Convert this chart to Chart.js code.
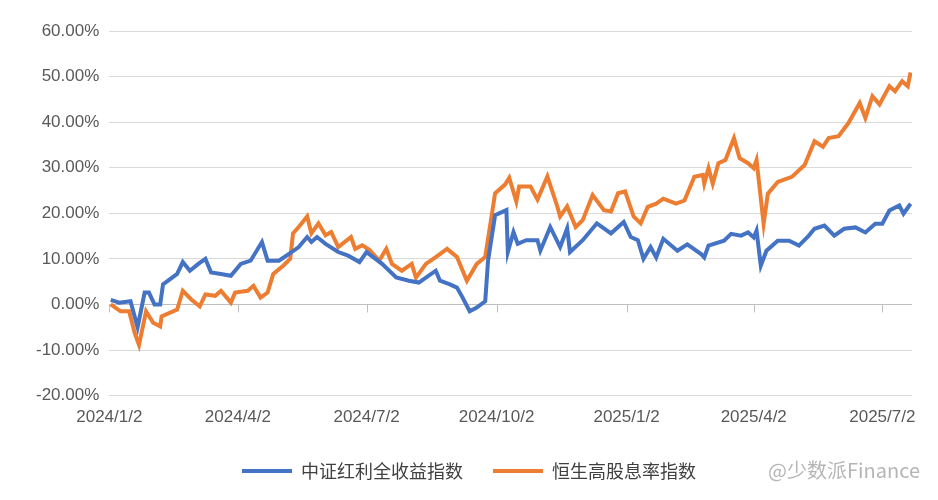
<!DOCTYPE html>
<html><head><meta charset="utf-8">
<script src="https://cdn.jsdelivr.net/npm/chart.js@4/dist/chart.umd.min.js"></script>
<style>html,body{margin:0;padding:0;background:#fff;}#wrap{position:relative;width:938px;height:500px;}
#wm{position:absolute;right:18px;top:455px;font:20px "Noto Sans CJK SC",sans-serif;color:rgba(120,120,120,0.55);}</style>
</head><body><div id="wrap"><canvas id="c" width="938" height="500"></canvas><div id="wm">@少数派Finance</div></div>
<script>
// days since 2024/1/2
const blueDays = [1,7,15,20,25,28,32,36,38,48,52,57,63,68,72,79,86,93,100,108,112,120,129,134,140,143,147,153,162,169,177,182,193,203,212,219,231,234,241,246,250,255,260,266,268,273,281,282,286,289,295,303,305,312,319,324,326,335,345,355,364,369,374,378,383,387,392,402,409,419,421,424,435,440,447,452,456,458,461,465,473,481,488,495,499,506,513,520,528,535,542,547,552,559,562,567];
const blueVals = [1,0.4,0.7,-5,2.6,2.6,0,0,4.4,6.7,9.3,7.4,8.9,10,7,6.7,6.3,8.9,9.6,13.7,9.6,9.6,11.5,12.6,14.8,13.7,14.8,13.3,11.5,10.7,9.3,11.5,8.9,5.9,5.2,4.8,7.4,5.2,4.4,3.7,1.5,-1.5,-0.7,0.7,9.6,19.6,20.7,11.5,15.9,13.3,14.1,14.1,11.8,17,12.6,16.7,11.5,14.1,17.8,15.6,18.1,14.8,14.1,10,12.6,10.3,14.4,11.8,13.2,11,10.3,12.9,14,15.5,15.1,15.8,14.7,16.2,8.5,11.8,14,14,12.9,15.1,16.6,17.3,15.1,16.6,16.9,15.8,17.7,17.7,20.6,21.7,19.9,22.1];
const orangeDays = [1,8,14,18,21,26,31,36,37,48,52,58,64,68,75,79,86,89,98,102,107,112,116,123,128,130,134,140,143,148,153,157,162,171,174,179,184,191,196,200,207,214,217,224,231,239,246,253,260,266,273,280,283,288,290,298,303,310,317,319,324,330,335,342,350,355,360,365,371,376,381,387,392,401,407,414,420,421,424,427,431,436,442,446,452,456,458,463,466,473,483,492,499,505,509,516,523,531,535,540,545,552,556,561,565,567];
const orangeVals = [0,-1.5,-1.5,-6.3,-8.9,-1.5,-4,-4.8,-2.6,-1.1,3,1.1,-0.4,2.2,1.9,3,0.4,2.6,3,4.1,1.5,2.6,6.7,8.5,10,15.6,17,19.3,15.6,17.8,15.2,15.9,12.6,14.8,12.2,13,12,9.6,12.2,8.9,7.4,8.9,5.9,8.9,10.4,12.2,10.4,5.2,8.9,10.4,24.4,26.3,27.8,22.6,25.9,25.9,23,28.1,21.5,19.3,21.5,17,18.5,24,20.7,20.4,24.4,24.8,19.3,17.8,21.4,22.1,23.2,22.1,22.8,28,28.4,26.5,29.9,26.5,31,31.7,36.5,32.1,31,29.9,31.7,17.7,24.3,26.9,28,30.6,35.8,34.6,36.5,36.9,39.8,44.2,40.9,45.7,43.9,47.9,46.8,49,47.9,50.9];
const tickDays = [0,91,182,274,366,456,547];
const tickLabels = ['2024/1/2','2024/4/2','2024/7/2','2024/10/2','2025/1/2','2025/4/2','2025/7/2'];
const seriesNames = ['中证红利全收益指数','恒生高股息率指数'];

const FONT = '"Liberation Sans", Arial, sans-serif';
const zeroTicks = {id:'zt', afterDatasetsDraw(ch){
  const x=ch.scales.x,y=ch.scales.y,ctx=ch.ctx;const y0=y.getPixelForValue(0);
  ctx.save();ctx.strokeStyle='#bfbfbf';ctx.lineWidth=1;
  tickDays.forEach(d=>{const px=Math.round(x.getPixelForValue(d))+0.5;ctx.beginPath();ctx.moveTo(px,y0);ctx.lineTo(px,y0+8);ctx.stroke();});
  ctx.restore();}};
new Chart(document.getElementById('c'),{
  type:'line',
  data:{datasets:[
    {label:seriesNames[0],data:blueDays.map((d,i)=>({x:d,y:blueVals[i]})),borderColor:'#4472C4',backgroundColor:'#4472C4',borderWidth:4,pointRadius:0,tension:0,order:1},
    {label:seriesNames[1],data:orangeDays.map((d,i)=>({x:d,y:orangeVals[i]})),borderColor:'#ED7D31',backgroundColor:'#ED7D31',borderWidth:4,pointRadius:0,tension:0,order:2}
  ]},
  options:{responsive:false,animation:false,
    layout:{padding:{left:26,right:26,top:31,bottom:10}},
    plugins:{tooltip:{enabled:false},
      legend:{position:'bottom',align:'center',labels:{usePointStyle:true,pointStyle:'line',pointStyleWidth:50,boxHeight:4,color:'#404040',font:{family:'"Noto Sans CJK SC",sans-serif',size:18},padding:30}}},
    scales:{
      x:{type:'linear',min:0,max:568,
        afterBuildTicks(s){s.ticks=tickDays.map(v=>({value:v}));},
        ticks:{autoSkip:false,maxRotation:0,color:'#595959',font:{family:FONT,size:17},padding:4,callback:(v)=>tickLabels[tickDays.indexOf(v)]},
        grid:{display:false},border:{display:false}},
      y:{min:-20,max:60,
        ticks:{stepSize:10,color:'#595959',font:{family:FONT,size:17},padding:10,callback:v=>v.toFixed(2)+'%'},
        grid:{color:ctx=>ctx.tick&&ctx.tick.value===0?'#bfbfbf':'#d9d9d9',lineWidth:1,drawTicks:false},border:{display:false}}
    }},
  plugins:[zeroTicks]
});
</script></body></html>
